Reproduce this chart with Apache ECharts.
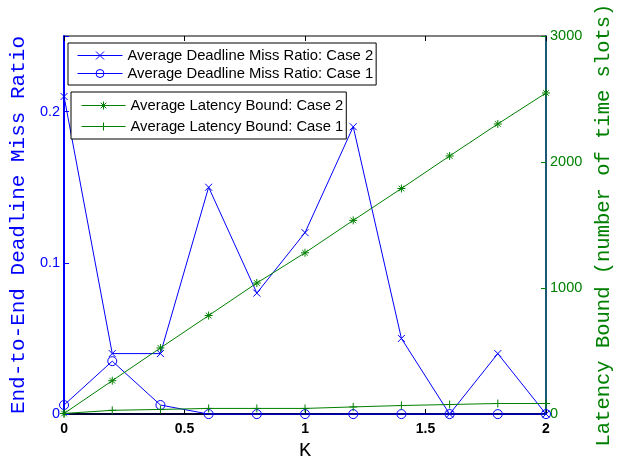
<!DOCTYPE html>
<html><head><meta charset="utf-8">
<script src="https://cdn.jsdelivr.net/npm/echarts@6/dist/echarts.min.js"></script>
<style>html,body{margin:0;padding:0;background:#fff}#c{width:627px;height:466px}</style>
</head><body><div id="c"></div>
<script>
var kValues = [0, 0.2, 0.4, 0.6, 0.8, 1.0, 1.2, 1.4, 1.6, 1.8, 2.0];
var missCase2 = [0.21, 0.04, 0.04, 0.15, 0.08, 0.12, 0.19, 0.05, 0, 0.04, 0];
var missCase1 = [0.006, 0.035, 0.006, 0, 0, 0, 0, 0, 0, 0, 0];
var latencyCase2 = [5, 265, 525, 782, 1040, 1280, 1537, 1790, 2048, 2302, 2548];
var latencyCase1 = [5, 30, 37, 45, 45, 45, 57, 68, 76, 84, 84];
var xTicks = [0, 0.5, 1, 1.5, 2];
var leftTicks = [0, 0.1, 0.2];
var rightTicks = [0, 1000, 2000, 3000];

var names = {
  m2: 'Average Deadline Miss Ratio: Case 2',
  m1: 'Average Deadline Miss Ratio: Case 1',
  l2: 'Average Latency Bound: Case 2',
  l1: 'Average Latency Bound: Case 1'
};
var BLUE = '#0000ff', GREEN = '#008000';
var SYM_X = 'path://M0,0L10,10M10,0L0,10';
var SYM_AST = 'path://M5,0L5,10M0,5L10,5M1.5,1.5L8.5,8.5M8.5,1.5L1.5,8.5';
var SYM_PLUS = 'path://M5,0L5,10M0,5L10,5';

function pairs(ys){ return kValues.map(function(k,i){ return [k, ys[i]]; }); }
function mk(name, ys, yIdx, color, symbol, size){
  return {
    name: name, type: 'line', xAxisIndex: 0, yAxisIndex: yIdx, data: pairs(ys),
    symbol: symbol, symbolSize: size, showAllSymbol: true,
    lineStyle: { color: color, width: 1 },
    itemStyle: { color: 'none', borderColor: color, borderWidth: 1 },
    emphasis: { disabled: true }, animation: false, clip: false
  };
}
var legendCommon = {
  orient: 'vertical', backgroundColor: '#fff', borderColor: '#000', borderWidth: 1,
  textStyle: { fontFamily: 'Liberation Sans', fontSize: 14.8, color: '#000' },
  lineStyle: { width: 1 }, itemStyle: { borderWidth: 1 },
  selectedMode: false
};

var chart = echarts.init(document.getElementById('c'), null, { renderer: 'canvas' });
chart.setOption({
  animation: false,
  backgroundColor: '#ffffff',
  grid: { left: 60, right: 81, top: 36, bottom: 48, show: true, borderColor: '#000', borderWidth: 1, backgroundColor: 'transparent' },
  xAxis: [{
    type: 'value', min: 0, max: 2, interval: 0.5, position: 'bottom',
    name: 'K', nameLocation: 'middle', nameGap: 26,
    nameTextStyle: { fontFamily: 'Liberation Mono', fontSize: 20, color: '#000' },
    axisLine: { show: true, onZero: false, lineStyle: { color: '#000033', width: 2 } },
    axisTick: { show: true, inside: true, length: 5, lineStyle: { color: '#000' } },
    axisLabel: { color: '#000', fontFamily: 'Liberation Sans', fontSize: 14, fontWeight: 'bold', margin: 8,
      formatter: function(v){ return xTicks.indexOf(v) >= 0 ? String(v) : ''; } },
    splitLine: { show: false }
  }, {
    type: 'value', min: 0, max: 2, interval: 0.5, position: 'top',
    axisLine: { show: false, onZero: false }, axisLabel: { show: false },
    axisTick: { show: true, inside: true, length: 5, lineStyle: { color: '#000' } },
    splitLine: { show: false }
  }],
  yAxis: [{
    type: 'value', min: 0, max: 0.25, interval: 0.1, position: 'left',
    name: 'End-to-End Deadline Miss Ratio', nameLocation: 'middle', nameGap: 34, nameRotate: 90,
    nameTextStyle: { fontFamily: 'Liberation Mono', fontSize: 21, color: BLUE },
    axisLine: { show: true, onZero: false, lineStyle: { color: BLUE, width: 2 } },
    axisTick: { show: true, inside: true, length: 5, lineStyle: { color: BLUE } },
    axisLabel: { color: BLUE, fontFamily: 'Liberation Sans', fontSize: 14.5, margin: 4,
      formatter: function(v){ var r = Math.round(v*10)/10; return (Math.abs(r - v) < 1e-9 && leftTicks.indexOf(r) >= 0) ? String(r) : ''; } },
    splitLine: { show: false }
  }, {
    type: 'value', min: 0, max: 3000, interval: 1000, position: 'right',
    name: 'Latency Bound (number of time slots)', nameLocation: 'middle', nameGap: 42, nameRotate: 90,
    nameTextStyle: { fontFamily: 'Liberation Mono', fontSize: 20.5, color: GREEN },
    axisLine: { show: true, onZero: false, lineStyle: { color: '#1a5a78', width: 2 } },
    axisTick: { show: true, inside: true, length: 5, lineStyle: { color: GREEN } },
    axisLabel: { color: GREEN, fontFamily: 'Liberation Sans', fontSize: 14.5, margin: 4,
      formatter: function(v){ return rightTicks.indexOf(v) >= 0 ? String(v) : ''; } },
    splitLine: { show: false }
  }],
  legend: [Object.assign({}, legendCommon, {
    data: [names.m2, names.m1], left: 68, top: 43,
    padding: [5, 3, 4, 9], itemGap: 3, itemWidth: 45, itemHeight: 10
  }), Object.assign({}, legendCommon, {
    data: [names.l2, names.l1], left: 71, top: 92,
    padding: [6, 3, 5, 10], itemGap: 6, itemWidth: 44, itemHeight: 10
  })],
  series: [
    mk(names.m2, missCase2, 0, BLUE, SYM_X, 7),
    mk(names.m1, missCase1, 0, BLUE, 'circle', 9),
    mk(names.l2, latencyCase2, 1, GREEN, SYM_AST, 8),
    mk(names.l1, latencyCase1, 1, GREEN, SYM_PLUS, 8)
  ]
});
</script></body></html>
